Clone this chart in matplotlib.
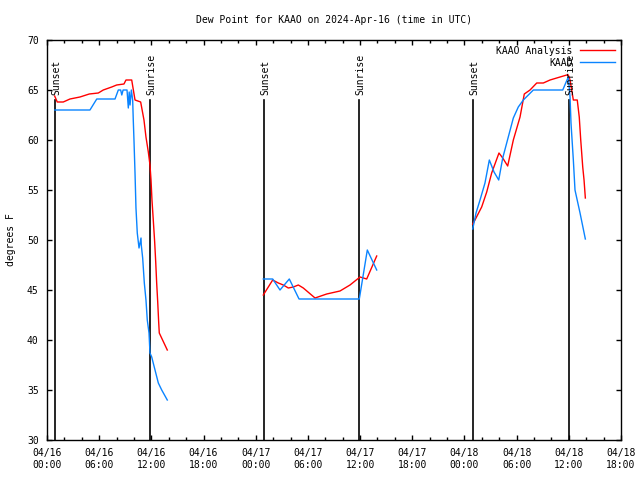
import numpy as np
import matplotlib
matplotlib.use('Agg')
import matplotlib.pyplot as plt

plt.rcParams['font.family'] = 'DejaVu Sans Mono'
plt.rcParams['font.size'] = 7

# hours since 2024-04-16 00:00 UTC
ana_h1 = [0.88, 1.18, 1.87, 2.64, 3.79, 4.86, 5.90, 6.47, 7.44, 8.01, 8.85, 9.08, 9.74,
          10.12, 10.77, 11.15, 11.38, 11.65, 11.84, 11.96, 12.07, 12.22, 12.38, 12.50,
          12.61, 12.73, 12.84, 12.91, 13.83]
ana_v1 = [64.4, 63.8, 63.8, 64.1, 64.3, 64.6, 64.7, 65.0, 65.3, 65.5, 65.6, 66.0, 66.0,
          64.0, 63.8, 62.0, 60.3, 58.8, 57.5, 56.0, 54.0, 52.0, 49.8, 47.8,
          45.7, 43.8, 41.8, 40.7, 39.0]
obs_h1 = [0.90, 4.94, 5.72, 7.82, 8.20, 8.47, 8.60, 8.75, 9.20, 9.35, 9.45, 9.55, 9.70,
          9.85, 9.92, 10.00, 10.12, 10.23, 10.38, 10.58, 10.81, 10.84, 11.00, 11.19,
          11.38, 11.53, 11.73, 11.84, 12.04, 12.42, 12.80, 13.19, 13.83]
obs_v1 = [63.0, 63.0, 64.1, 64.1, 65.0, 65.0, 64.5, 65.0, 65.0, 63.2, 64.8, 63.5, 65.0,
          64.0, 62.0, 60.0, 56.7, 53.2, 50.7, 49.2, 50.2, 49.5, 48.2, 45.7,
          44.0, 42.0, 40.7, 38.7, 38.3, 37.0, 35.7, 35.0, 34.0]

ana_h2 = [24.87, 25.95, 26.60, 27.17, 27.75, 28.32, 28.90, 29.47, 30.82, 32.16, 33.69,
          34.84, 35.99, 36.76, 37.91]
ana_v2 = [44.5, 46.0, 45.7, 45.5, 45.2, 45.3, 45.5, 45.2, 44.2, 44.6, 44.9,
          45.5, 46.3, 46.1, 48.4]
obs_h2 = [24.87, 25.95, 26.79, 27.86, 28.98, 35.91, 36.83, 37.91]
obs_v2 = [46.1, 46.1, 45.0, 46.1, 44.1, 44.1, 49.0, 47.0]

ana_h3 = [48.95, 49.21, 49.98, 50.56, 51.13, 51.97, 52.40, 52.97, 53.62, 54.39, 54.88,
          55.54, 56.31, 57.07, 57.84, 58.99, 59.76, 59.94, 60.14, 60.52, 60.97, 61.20,
          61.37, 61.60, 61.75, 61.90]
ana_v3 = [51.6, 52.0, 53.3, 54.8, 56.7, 58.7, 58.2, 57.4, 60.0, 62.3, 64.6,
          65.0, 65.7, 65.7, 66.0, 66.3, 66.5, 66.5, 66.0, 64.0, 64.0, 62.3,
          60.0, 57.3, 56.0, 54.2]
obs_h3 = [48.95, 49.33, 49.79, 50.36, 50.86, 51.40, 51.94, 52.40, 53.04, 53.62, 54.19,
          54.77, 55.92, 59.30, 59.94, 60.14, 60.25, 60.52, 60.71, 61.29, 61.90]
obs_v3 = [51.1, 52.7, 54.0, 55.7, 58.0, 56.8, 56.0, 58.2, 60.3, 62.2, 63.3,
          64.0, 65.0, 65.0, 66.3, 64.3, 61.7, 58.0, 55.0, 52.7, 50.1]

sun_h = [0.92, 11.84, 24.95, 35.87, 48.98, 60.02]
sun_lab = ['Sunset', 'Sunrise', 'Sunset', 'Sunrise', 'Sunset', 'Sunrise']

tick_h = [0, 6, 12, 18, 24, 30, 36, 42, 48, 54, 60, 66]
tick_lab = ['04/16\n00:00', '04/16\n06:00', '04/16\n12:00', '04/16\n18:00',
            '04/17\n00:00', '04/17\n06:00', '04/17\n12:00', '04/17\n18:00',
            '04/18\n00:00', '04/18\n06:00', '04/18\n12:00', '04/18\n18:00']

red = '#ff0000'
blue = '#0a84ff'

fig = plt.figure(figsize=(6.4, 4.8), dpi=100)
ax = fig.add_axes([47/640, 40/480, 574/640, 400/480])

for h, lab in zip(sun_h, sun_lab):
    ax.plot([h, h], [30, 64], color='black', lw=1.2, zorder=1)
    ax.text(h + 0.15, 64.5, lab, rotation=90, ha='center', va='bottom')

ax.plot(ana_h1, ana_v1, color=red, lw=1, label='KAAO Analysis')
ax.plot(ana_h2, ana_v2, color=red, lw=1)
ax.plot(ana_h3, ana_v3, color=red, lw=1)
ax.plot(obs_h1, obs_v1, color=blue, lw=1, label='KAAO')
ax.plot(obs_h2, obs_v2, color=blue, lw=1)
ax.plot(obs_h3, obs_v3, color=blue, lw=1)

ax.set_xlim(0, 66)
ax.set_ylim(30, 70)
ax.set_xticks(tick_h)
ax.set_xticklabels(tick_lab)
ax.set_xticks(np.arange(0, 67, 2), minor=True)
ax.set_yticks(np.arange(30, 71, 5))
ax.tick_params(which='both', direction='in', top=True, right=True, width=1)
ax.tick_params(which='major', length=3.5, pad=6)
ax.tick_params(which='minor', length=2.5)
for s in ax.spines.values():
    s.set_linewidth(1)

fig.text(11/640, 0.5, 'degrees F', rotation=90, ha='center', va='center')
fig.text(334/640, 1 - 20/480, 'Dew Point for KAAO on 2024-Apr-16 (time in UTC)',
         ha='center', va='center')
ax.legend(loc='upper right', frameon=False, markerfirst=False, handlelength=3.6,
          borderaxespad=0.2, labelspacing=0.2, handletextpad=0.8)

fig.savefig('out.png', dpi=100)
